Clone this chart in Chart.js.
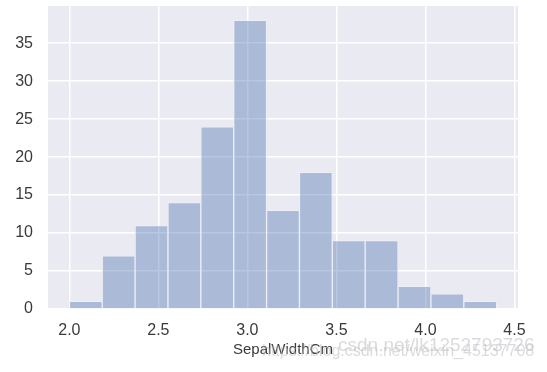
<!DOCTYPE html>
<html>
<head>
<meta charset="utf-8">
<script src="https://cdn.jsdelivr.net/npm/chart.js@4"></script>
<style>
    html, body { margin: 0; padding: 0; background: #fff; }
    #wrap { position: relative; width: 547px; height: 372px; }
    .mark { position: absolute; font-family: 'Liberation Sans', Arial, sans-serif; white-space: nowrap; color: rgba(190, 190, 195, 0.55); }
</style>
</head>
<body>
<div id="wrap">
    <canvas id="chart" width="547" height="372"></canvas>
    <div class="mark" style="left:338px; top:334px; font-size:19px;">csdn.net/lk1252793726</div>
    <div class="mark" style="left:262px; top:342px; font-size:16px;">https://blog.csdn.net/weixin_45137708</div>
</div>
<script>
// Iris SepalWidthCm histogram (13 bins from 2.0 to 4.4)
const binEdges = [2.0, 2.1846, 2.3692, 2.5538, 2.7385, 2.9231, 3.1077, 3.2923, 3.4769, 3.6615, 3.8462, 4.0308, 4.2154, 4.4];
const counts = [1, 7, 11, 14, 24, 38, 13, 18, 9, 9, 3, 2, 1];
const xTicks = [2.0, 2.5, 3.0, 3.5, 4.0, 4.5];
const yTicks = [0, 5, 10, 15, 20, 25, 30, 35];

const points = counts.map((c, i) => ({ x: (binEdges[i] + binEdges[i + 1]) / 2, y: c }));

const plotBg = {
    id: 'plotBg',
    beforeDraw(chart) {
        const { ctx: c, chartArea: a } = chart;
        c.save();
        c.fillStyle = '#EAEAF2';
        c.fillRect(a.left, a.top, a.right - a.left, a.bottom - a.top);
        c.restore();
    }
};

const fontFamily = "'Liberation Sans', Arial, sans-serif";
const tickFont = { family: fontFamily, size: 16 };

new Chart(document.getElementById('chart'), {
    type: 'bar',
    data: {
        datasets: [{
            data: points,
            backgroundColor: 'rgba(76, 114, 176, 0.4)',
            borderColor: 'rgba(240, 240, 248, 0.7)',
            borderWidth: 1,
            barPercentage: 1,
            categoryPercentage: 1,
            grouped: false
        }]
    },
    options: {
        responsive: false,
        animation: false,
        layout: { padding: { top: 6, right: 29, left: 0, bottom: 0 } },
        plugins: { legend: { display: false }, tooltip: { enabled: false } },
        scales: {
            x: {
                type: 'linear',
                offset: false,
                min: 1.88, max: 4.52,
                afterBuildTicks: (s) => { s.ticks = xTicks.map(v => ({ value: v })); },
                afterFit: (s) => { s.height = 63; s.paddingLeft = 0; s.paddingRight = 0; },
                grid: { color: '#ffffff', lineWidth: 1.5, drawTicks: false, offset: false },
                border: { display: false },
                ticks: { color: '#3a3a3a', font: tickFont, padding: 12, callback: (v) => v.toFixed(1), maxRotation: 0 },
                title: { display: true, text: 'SepalWidthCm', color: '#3a3a3a', font: { family: fontFamily, size: 15 }, padding: { top: 2, bottom: 13 } }
            },
            y: {
                min: 0, max: 39.9,
                afterBuildTicks: (s) => { s.ticks = yTicks.map(v => ({ value: v })); },
                afterFit: (s) => { s.width = 48; s.paddingTop = 0; s.paddingBottom = 0; },
                grid: { color: '#ffffff', lineWidth: 1.5, drawTicks: false },
                border: { display: false },
                ticks: { color: '#3a3a3a', font: tickFont, padding: 15 }
            }
        }
    },
    plugins: [plotBg]
});
</script>
</body>
</html>
